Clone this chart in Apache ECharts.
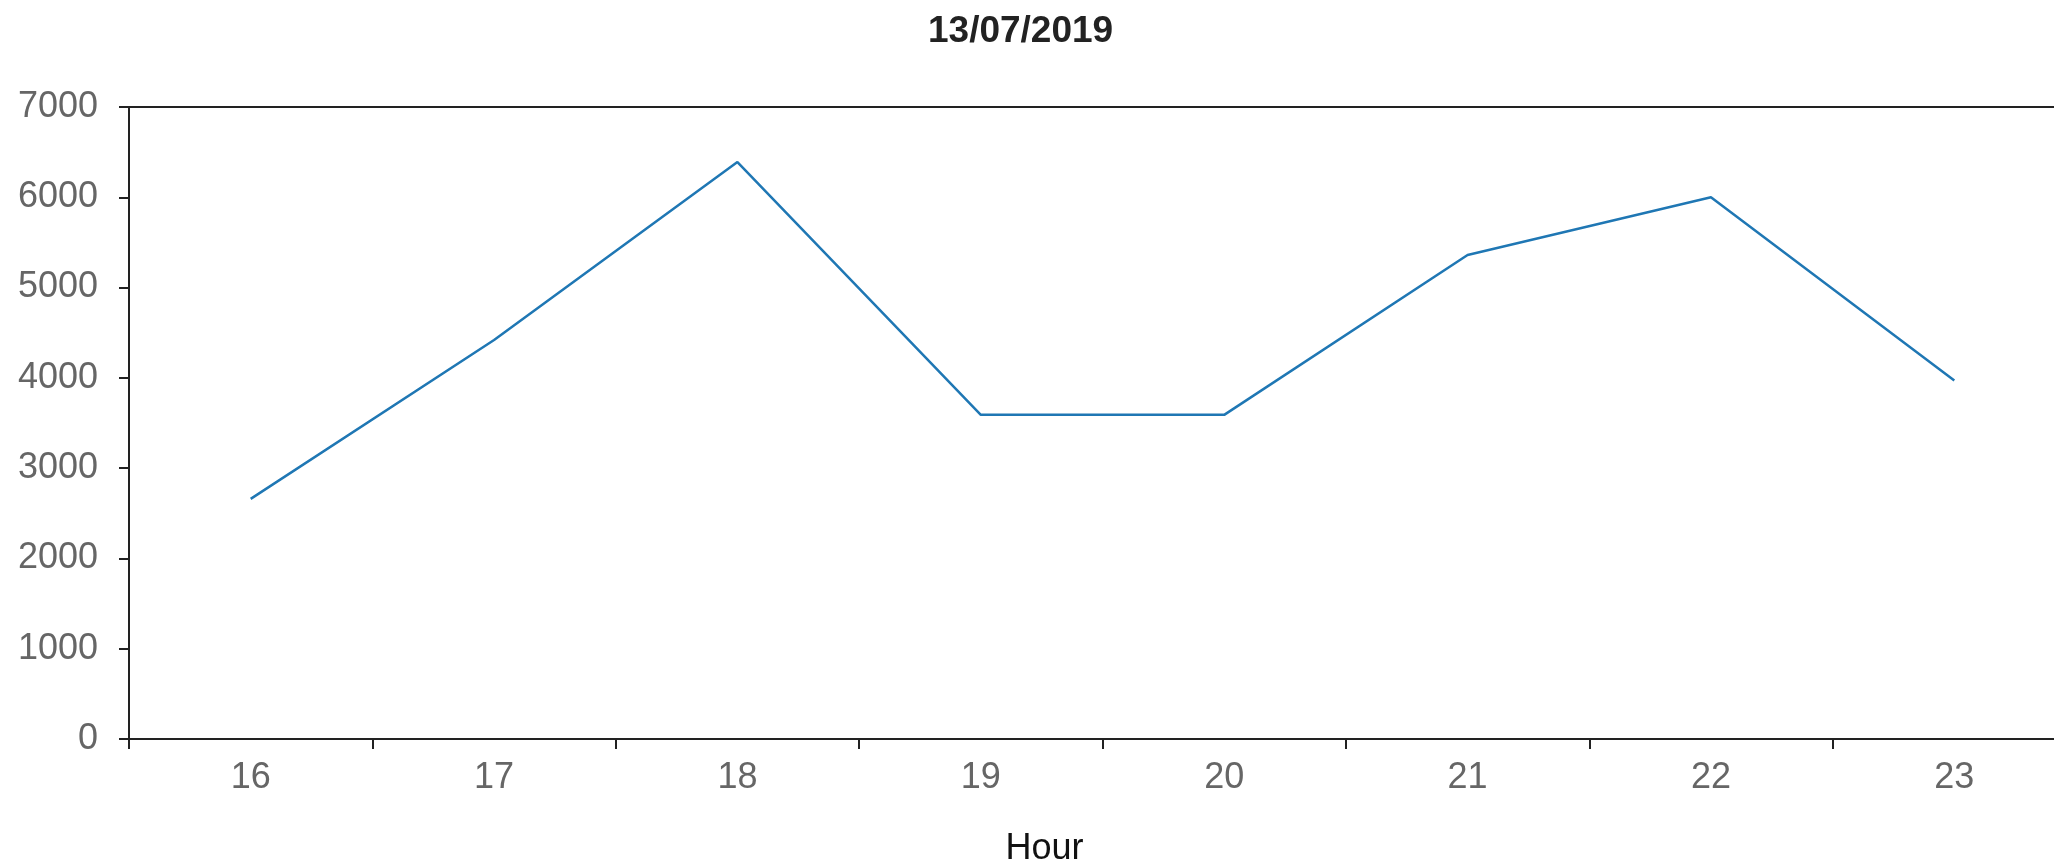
<!DOCTYPE html>
<html>
<head>
<meta charset="utf-8">
<script src="https://cdn.jsdelivr.net/npm/echarts@6/dist/echarts.min.js"></script>
<style>
html, body { margin: 0; padding: 0; background: #fff; }
#chart { width: 2054px; height: 862px; }
</style>
</head>
<body>
<div id="chart"></div>
<script>
const hours = ['16', '17', '18', '19', '20', '21', '22', '23'];
const counts = [2660, 4420, 6390, 3590, 3590, 5360, 6000, 3970];

const myChart = echarts.init(document.getElementById('chart'));
const font = 'Liberation Sans, Arial, Helvetica, sans-serif';

const option = {
    animation: false,
    title: {
        text: '13/07/2019',
        left: 923,
        top: 8,
        textStyle: {
            fontFamily: font,
            fontSize: 37,
            fontWeight: 'bold',
            color: '#222'
        }
    },
    grid: {
        left: 129,
        top: 107,
        bottom: 123,
        right: -22,
        outerBoundsMode: 'none',
        containLabel: false,
        show: true,
        borderColor: '#222',
        borderWidth: 2
    },
    xAxis: {
        type: 'category',
        data: hours,
        boundaryGap: true,
        name: 'Hour',
        nameLocation: 'middle',
        nameGap: 92,
        // plot runs past the right edge, so pull the name back to the page centre
        nameTextStyle: { fontFamily: font, fontSize: 36, color: '#111', padding: [0, 116, 0, 0] },
        axisLine: { lineStyle: { color: '#222', width: 2 } },
        axisTick: { show: true, interval: 0, length: 10, lineStyle: { color: '#222', width: 2 } },
        axisLabel: { fontFamily: font, fontSize: 36, color: '#666', margin: 21 },
        splitLine: { show: false }
    },
    yAxis: {
        type: 'value',
        min: 0,
        max: 7000,
        interval: 1000,
        axisLine: { show: true, lineStyle: { color: '#222', width: 2 } },
        axisTick: { show: true, length: 10, lineStyle: { color: '#222', width: 2 } },
        axisLabel: {
            fontFamily: font,
            fontSize: 36,
            color: '#666',
            margin: 31,
            formatter: (v) => String(v)
        },
        splitLine: { show: false }
    },
    series: [
        {
            type: 'line',
            data: counts,
            showSymbol: false,
            symbol: 'none',
            lineStyle: { color: '#1f77b4', width: 2.5 }
        }
    ]
};
myChart.setOption(option);
</script>
</body>
</html>
